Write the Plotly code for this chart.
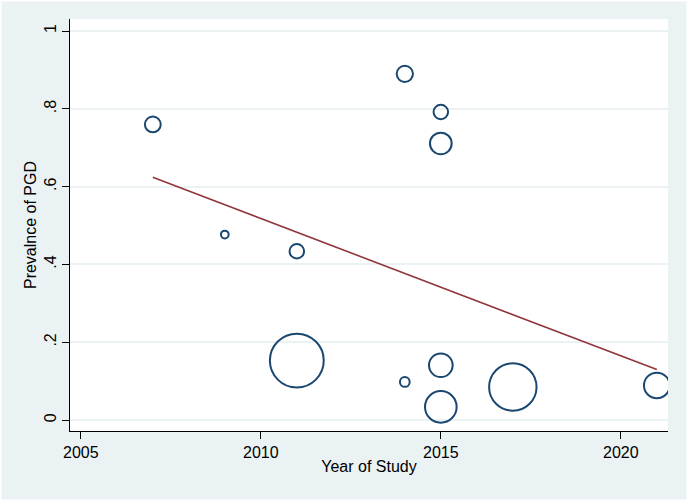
import plotly.graph_objects as go

# Study data
years = [2007, 2009, 2011, 2011, 2014, 2014, 2015, 2015, 2015, 2015, 2017, 2021]
prevalence = [0.760, 0.477, 0.434, 0.153, 0.890, 0.098, 0.792, 0.711, 0.141, 0.034, 0.085, 0.089]
weights = [250, 60, 210, 2900, 265, 95, 210, 470, 560, 1000, 2250, 660]

# Fitted (weighted) regression line
fit_years = [2007, 2021]
fit_values = [0.624, 0.130]

x_ticks = [2005, 2010, 2015, 2020]
y_ticks = [0, 0.2, 0.4, 0.6, 0.8, 1]
y_tick_labels = ["0", ".2", ".4", ".6", ".8", "1"]

navy = "#1A476F"
maroon = "#90353B"
bg = "#EAF2F3"
font = "Liberation Sans, Arial, sans-serif"

fig = go.Figure()
fig.add_trace(go.Scatter(
    x=years, y=prevalence, mode="markers",
    marker=dict(size=weights, sizemode="area", sizeref=2, opacity=1,
                color="rgba(0,0,0,0)", line=dict(color=navy, width=2)),
    showlegend=False, hoverinfo="x+y",
))
fig.add_trace(go.Scatter(
    x=fit_years, y=fit_values, mode="lines",
    line=dict(color=maroon, width=1.6), showlegend=False,
))

fig.update_layout(
    width=688, height=501,
    margin=dict(l=70, r=20, t=19, b=70),
    paper_bgcolor=bg, plot_bgcolor="white",
    font=dict(family=font, size=16, color="black"),
    xaxis=dict(
        range=[2004.70, 2021.31], tickvals=x_ticks,
        showgrid=False, zeroline=False, automargin=False,
        showline=True, linecolor="black", linewidth=1.2,
        ticks="outside", ticklen=7, tickwidth=1.2, tickcolor="black",
        title=dict(text="Year of Study", standoff=0, font=dict(size=16)),
        tickfont=dict(size=16),
    ),
    yaxis=dict(
        range=[-0.028, 1.031], tickvals=y_ticks, ticktext=y_tick_labels,
        tickangle=-90, automargin=False,
        showgrid=True, gridcolor=bg, gridwidth=1.5, zeroline=False,
        showline=True, linecolor="black", linewidth=1.2,
        ticks="outside", ticklen=7, tickwidth=1.2, tickcolor="black",
        title=dict(text="Prevalnce of PGD", standoff=0, font=dict(size=16)),
        tickfont=dict(size=16),
    ),
    shapes=[dict(type="rect", xref="paper", yref="paper",
                 x0=-70/598, x1=1+20/598, y0=-70/412, y1=1+19/412,
                 line=dict(color="white", width=3), layer="below")],
)

fig.write_html("out.html", config={"displayModeBar": False},
               post_script="document.body.style.margin='0';")
